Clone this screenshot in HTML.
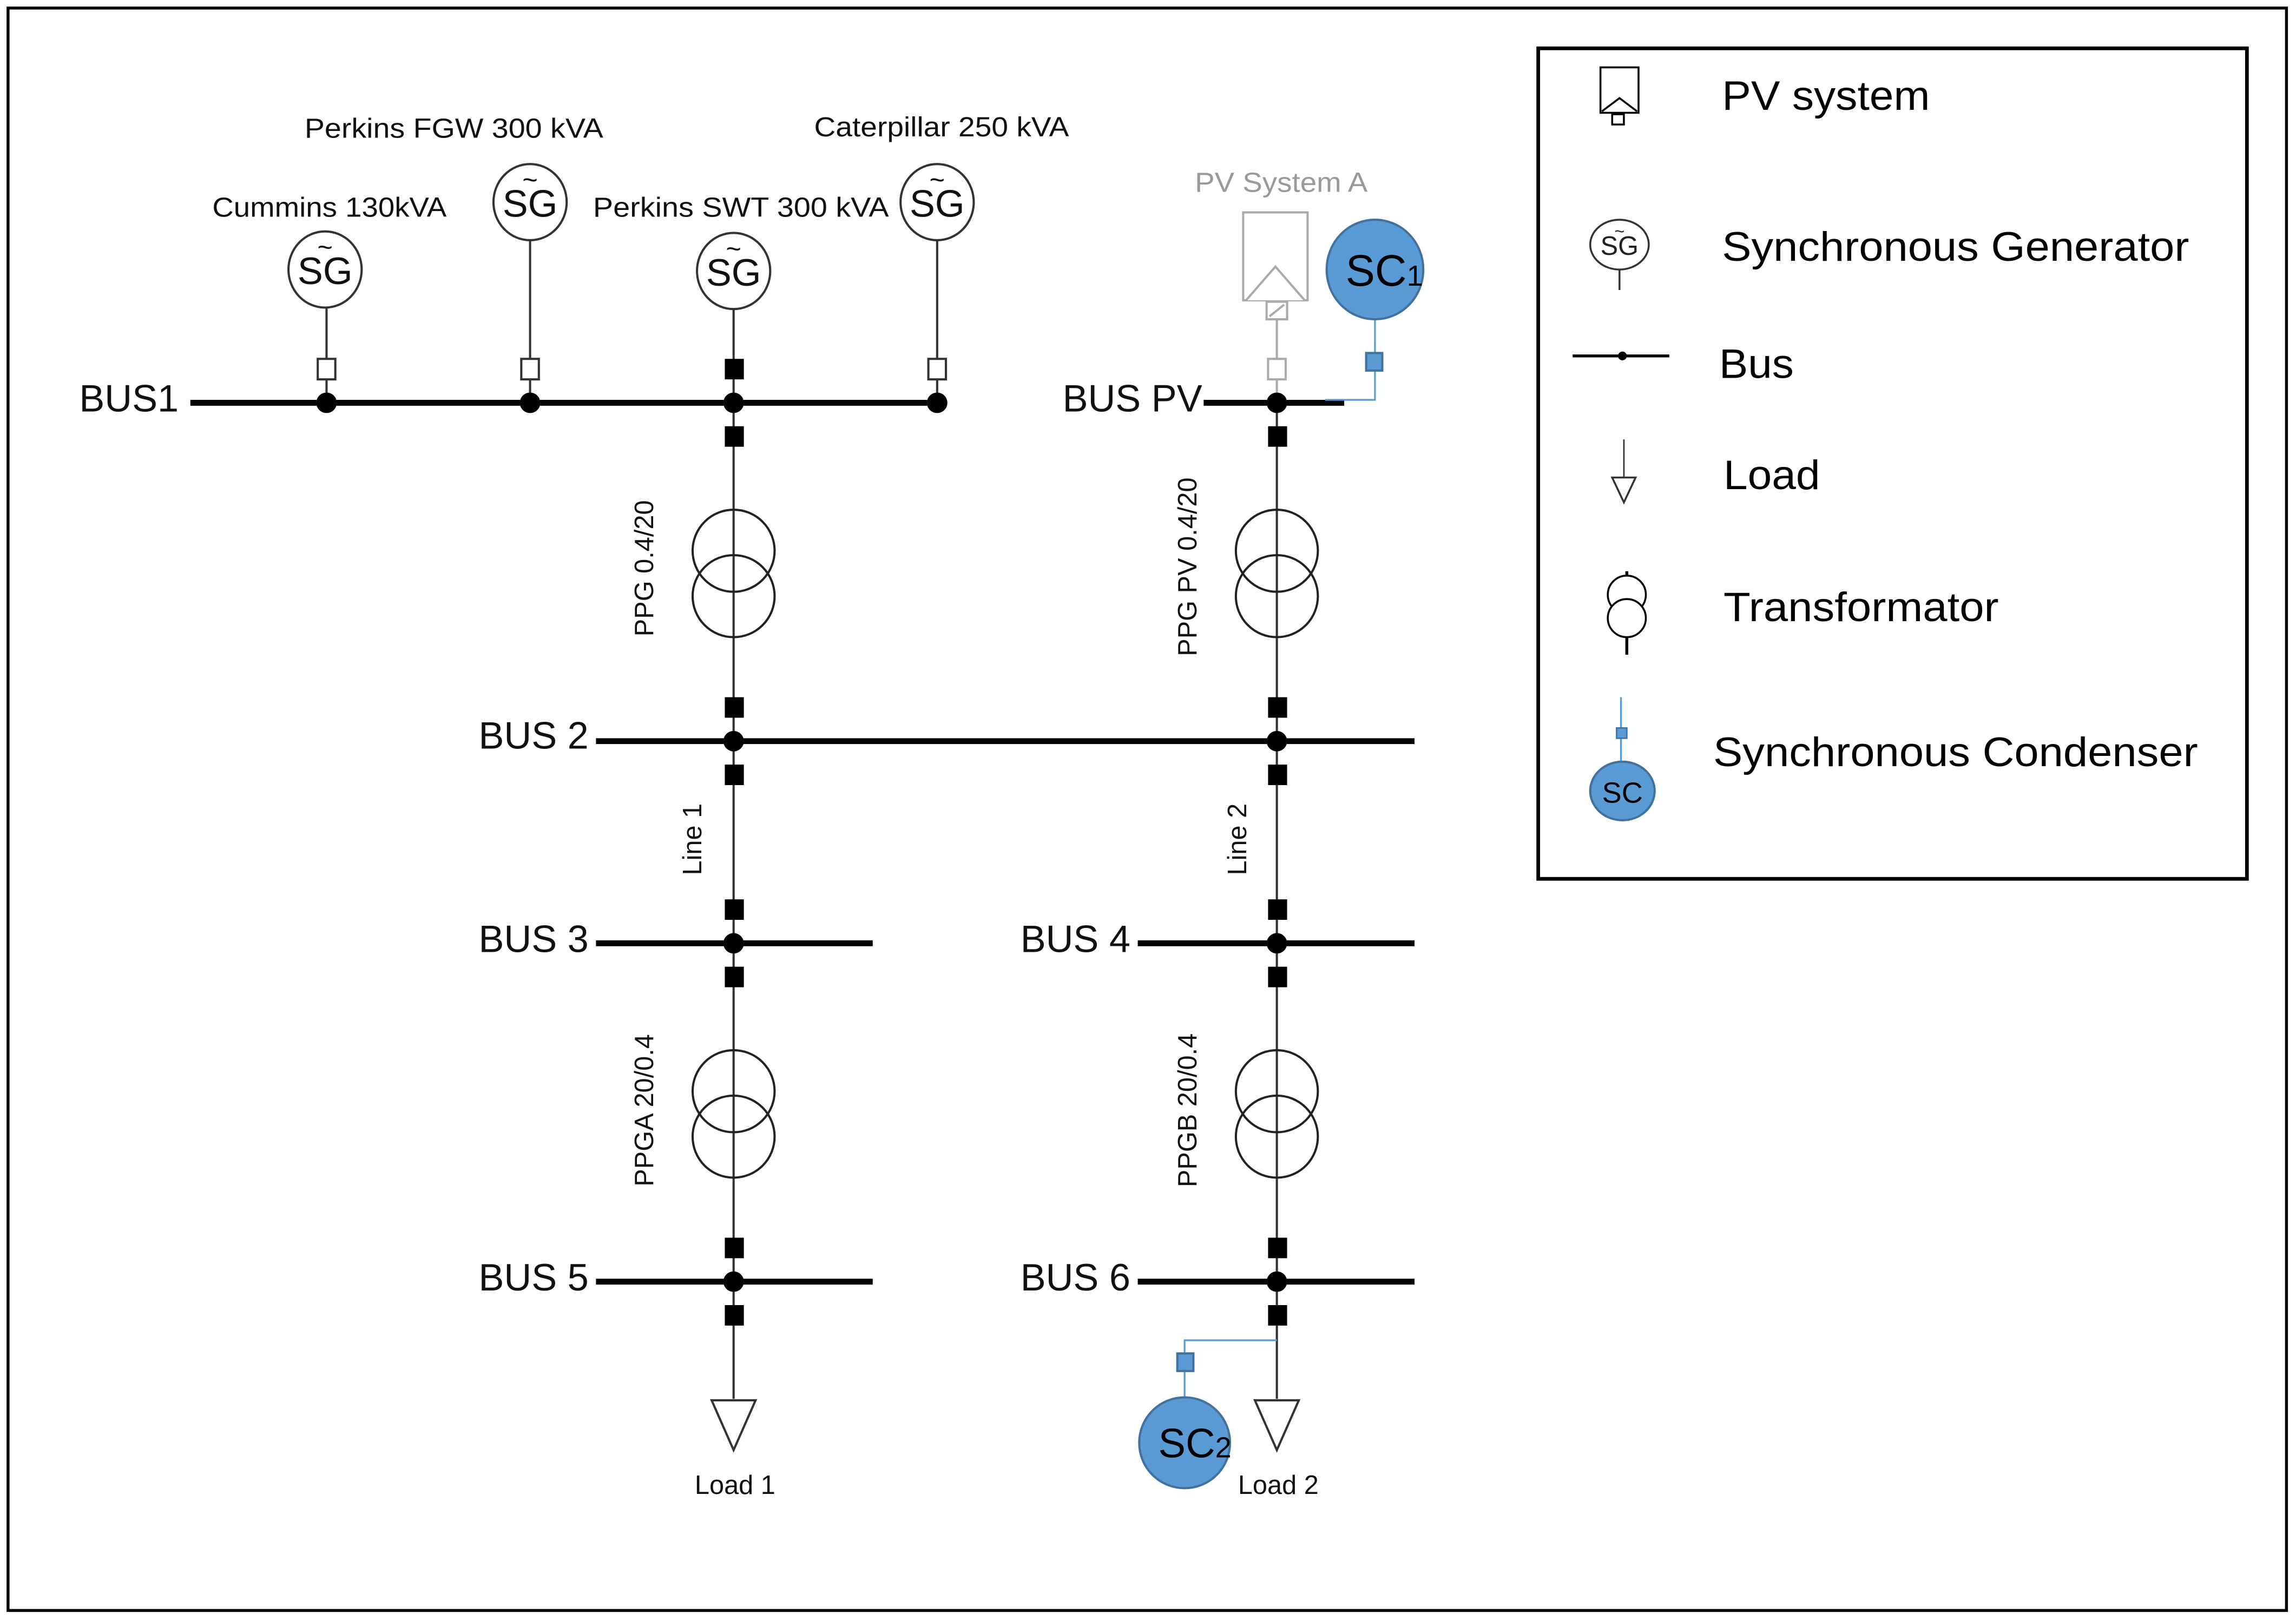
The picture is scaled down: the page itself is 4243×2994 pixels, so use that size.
<!DOCTYPE html>
<html><head><meta charset="utf-8"><style>html,body{margin:0;padding:0;background:#fff}svg{display:block}</style></head>
<body>
<svg width="4243" height="2994" viewBox="0 0 1568 1106" preserveAspectRatio="none" xmlns="http://www.w3.org/2000/svg" font-family="Liberation Sans, sans-serif">
<rect x="0" y="0" width="1568" height="1106" fill="#fff"/>
<rect x="5.5" y="5.5" width="1556" height="1094" fill="none" stroke="#000" stroke-width="2"/>

<g font-size="19" fill="#111">
<text x="225" y="148" text-anchor="middle" textLength="160" lengthAdjust="spacingAndGlyphs">Cummins 130kVA</text>
<text x="310" y="94" text-anchor="middle" textLength="204" lengthAdjust="spacingAndGlyphs">Perkins FGW 300 kVA</text>
<text x="506" y="148" text-anchor="middle" textLength="202" lengthAdjust="spacingAndGlyphs">Perkins SWT 300 kVA</text>
<text x="643" y="93" text-anchor="middle" textLength="174" lengthAdjust="spacingAndGlyphs">Caterpillar 250 kVA</text>
<text x="875" y="131" text-anchor="middle" fill="#999" textLength="118" lengthAdjust="spacingAndGlyphs">PV System A</text>
</g>

<g stroke="#333" stroke-width="1.5" fill="#fff">
<line x1="223" y1="208" x2="223" y2="275"/>
<line x1="362" y1="163" x2="362" y2="275"/>
<line x1="501" y1="209" x2="501" y2="875"/>
<line x1="640" y1="163" x2="640" y2="275"/>
<line x1="872" y1="218" x2="872" y2="275" stroke="#aaa"/>
<line x1="872" y1="275" x2="872" y2="955"/>
<line x1="501" y1="875" x2="501" y2="955"/>
<ellipse cx="222" cy="184" rx="25" ry="26"/>
<ellipse cx="362" cy="138" rx="25" ry="26"/>
<ellipse cx="501" cy="185" rx="25" ry="26"/>
<ellipse cx="640" cy="138" rx="25" ry="26"/>
</g>
<g font-size="26" text-anchor="middle" fill="#111">
<text x="222" y="194">SG</text><text x="222" y="175" font-size="18">~</text>
<text x="362" y="148">SG</text><text x="362" y="129" font-size="18">~</text>
<text x="501" y="195">SG</text><text x="501" y="176" font-size="18">~</text>
<text x="640" y="148">SG</text><text x="640" y="129" font-size="18">~</text>
</g>

<g stroke="#000" stroke-width="4">
<line x1="130" y1="275" x2="640" y2="275"/>
<line x1="822" y1="275" x2="918" y2="275"/>
<line x1="407" y1="506" x2="966" y2="506"/>
<line x1="407" y1="644" x2="596" y2="644"/>
<line x1="777" y1="644" x2="966" y2="644"/>
<line x1="407" y1="875" x2="596" y2="875"/>
<line x1="777" y1="875" x2="966" y2="875"/>
</g>
<g fill="#000">
<circle cx="223" cy="275" r="7"/><circle cx="362" cy="275" r="7"/><circle cx="501" cy="275" r="7"/><circle cx="640" cy="275" r="7"/><circle cx="872" cy="275" r="7"/>
<circle cx="501" cy="506" r="7"/><circle cx="872" cy="506" r="7"/>
<circle cx="501" cy="644" r="7"/><circle cx="872" cy="644" r="7"/>
<circle cx="501" cy="875" r="7"/><circle cx="872" cy="875" r="7"/>
</g>
<g font-size="26" fill="#111" text-anchor="end">
<text x="122" y="281">BUS1</text>
<text x="821" y="281">BUS PV</text>
<text x="402" y="511">BUS 2</text>
<text x="402" y="650">BUS 3</text>
<text x="772" y="650">BUS 4</text>
<text x="402" y="881">BUS 5</text>
<text x="772" y="881">BUS 6</text>
</g>

<g fill="#fff" stroke="#333" stroke-width="1.5">
<rect x="217" y="245" width="12" height="14"/><rect x="356" y="245" width="12" height="14"/><rect x="634" y="245" width="12" height="14"/>
<rect x="866" y="245" width="12" height="14" stroke="#aaa"/>
</g>
<g fill="#000">
<rect x="495" y="245" width="13" height="14"/><rect x="495" y="291" width="13" height="14"/>
<rect x="866" y="291" width="13" height="14"/>
<rect x="495" y="476" width="13" height="14"/><rect x="495" y="522" width="13" height="14"/>
<rect x="866" y="476" width="13" height="14"/><rect x="866" y="522" width="13" height="14"/>
<rect x="495" y="614" width="13" height="14"/><rect x="495" y="660" width="13" height="14"/>
<rect x="866" y="614" width="13" height="14"/><rect x="866" y="660" width="13" height="14"/>
<rect x="495" y="845" width="13" height="14"/><rect x="495" y="891" width="13" height="14"/>
<rect x="866" y="845" width="13" height="14"/><rect x="866" y="891" width="13" height="14"/>
</g>

<g fill="none" stroke="#222" stroke-width="1.5">
<circle cx="501" cy="376" r="28"/><circle cx="501" cy="407" r="28"/>
<circle cx="872" cy="376" r="28"/><circle cx="872" cy="407" r="28"/>
<circle cx="501" cy="745" r="28"/><circle cx="501" cy="776" r="28"/>
<circle cx="872" cy="745" r="28"/><circle cx="872" cy="776" r="28"/>
</g>
<g font-size="18" fill="#111" text-anchor="middle">
<text transform="translate(446,388) rotate(-90)">PPG 0.4/20</text>
<text transform="translate(817,387) rotate(-90)">PPG PV 0.4/20</text>
<text transform="translate(479,573) rotate(-90)">Line 1</text>
<text transform="translate(851,573) rotate(-90)">Line 2</text>
<text transform="translate(446,758) rotate(-90)">PPGA 20/0.4</text>
<text transform="translate(817,758) rotate(-90)">PPGB 20/0.4</text>
<text x="502" y="1020">Load 1</text>
<text x="873" y="1020">Load 2</text>
</g>

<g fill="#fff" stroke="#333" stroke-width="1.5">
<polygon points="486,956 516,956 501,990"/>
<polygon points="857,956 887,956 872,990"/>
</g>

<g fill="#fff" stroke="#aaa" stroke-width="1.5">
<rect x="849" y="145" width="44" height="60"/>
<polyline points="851,205 871,182 891,205"/>
<rect x="865" y="206" width="14" height="12"/>
<line x1="867" y1="216" x2="877" y2="208"/>
</g>

<g stroke="#5b9bd5" stroke-width="1.2" fill="none">
<polyline points="939,218 939,273 905,273"/>
<polyline points="872,915 809,915 809,955"/>
</g>
<g fill="#5b9bd5" stroke="#41719c" stroke-width="1.5">
<rect x="933" y="241" width="11" height="12"/>
<rect x="804" y="924" width="11" height="12"/>
<ellipse cx="939" cy="184" rx="33" ry="34"/>
<ellipse cx="809" cy="985" rx="31" ry="31"/>
</g>
<text x="919" y="195" font-size="30" fill="#000">SC<tspan font-size="20">1</tspan></text>
<text x="791" y="995" font-size="28" fill="#000">SC<tspan font-size="20">2</tspan></text>

<rect x="1050.5" y="33" width="484" height="567" fill="none" stroke="#000" stroke-width="2.5"/>
<g font-size="28" fill="#000">
<text x="1176" y="75" textLength="142" lengthAdjust="spacingAndGlyphs">PV system</text>
<text x="1176" y="178" textLength="319" lengthAdjust="spacingAndGlyphs">Synchronous Generator</text>
<text x="1174" y="258" textLength="51" lengthAdjust="spacingAndGlyphs">Bus</text>
<text x="1177" y="334" textLength="66" lengthAdjust="spacingAndGlyphs">Load</text>
<text x="1177" y="424" textLength="188" lengthAdjust="spacingAndGlyphs">Transformator</text>
<text x="1170" y="523" textLength="331" lengthAdjust="spacingAndGlyphs">Synchronous Condenser</text>
</g>
<g fill="#fff" stroke="#000" stroke-width="1.3">
<rect x="1093" y="46" width="26" height="31"/>
<polyline points="1094,76 1106,67 1118,76"/>
<rect x="1101" y="78" width="8" height="7"/>
<line x1="1106" y1="184" x2="1106" y2="198" stroke="#333"/>
<ellipse cx="1106" cy="167" rx="20" ry="17" stroke="#333"/>
<line x1="1074" y1="243" x2="1140" y2="243" stroke-width="2"/>
<line x1="1109" y1="300" x2="1109" y2="343" stroke="#333" stroke-width="1"/>
<polygon points="1101,326 1117,326 1109,343" stroke="#333"/>
<line x1="1111" y1="390" x2="1111" y2="447" stroke-width="2"/>
<circle cx="1111" cy="406" r="13"/><circle cx="1111" cy="422" r="13"/>
</g>
<text x="1106" y="174" font-size="18" text-anchor="middle" fill="#222">SG</text>
<text x="1106" y="162" font-size="12" text-anchor="middle" fill="#222">~</text>
<circle cx="1108" cy="243" r="3" fill="#000"/>
<line x1="1107" y1="476" x2="1107" y2="520" stroke="#5b9bd5" stroke-width="1.2"/>
<rect x="1104" y="497" width="7" height="7" fill="#5b9bd5" stroke="#41719c"/>
<ellipse cx="1108" cy="540" rx="22" ry="20" fill="#5b9bd5" stroke="#41719c" stroke-width="1.5"/>
<text x="1108" y="548" font-size="20" text-anchor="middle" fill="#000">SC</text>
</svg>
</body></html>
